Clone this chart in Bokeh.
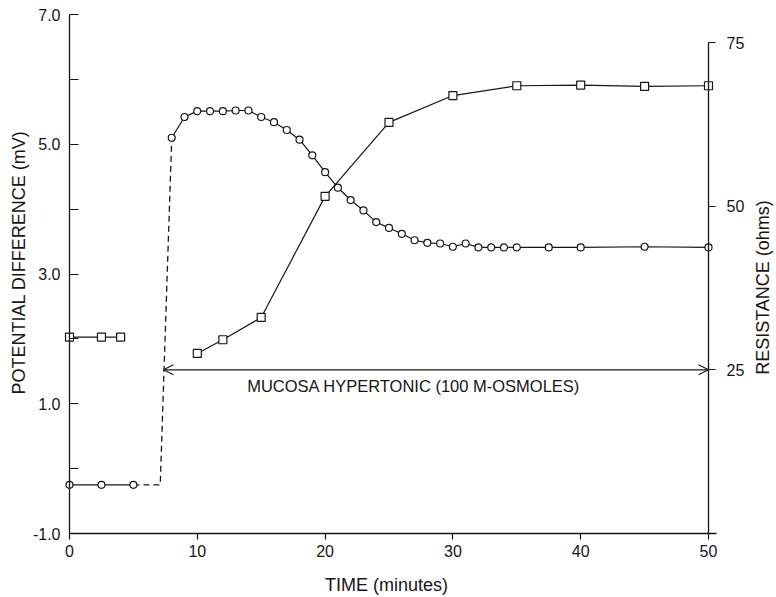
import math
from bokeh.plotting import figure
from bokeh.models import Range1d, LinearAxis, FixedTicker, Arrow, OpenHead, Label
from bokeh.embed import file_html
from bokeh.resources import INLINE

# ---- data ----
# potential difference (mV), circles, left axis
pd_base_t = [0, 2.5, 5]
pd_base_v = [-0.25, -0.25, -0.25]
jump_t = [5, 7.1, 8]
jump_v = [-0.25, -0.25, 5.1]
pd_t = [8, 9, 10, 11, 12, 13, 14, 15, 16, 17, 18, 19, 20, 21, 22, 23, 24, 25,
        26, 27, 28, 29, 30, 31, 32, 33, 34, 35, 37.5, 40, 45, 50]
pd_v = [5.1, 5.42, 5.51, 5.51, 5.51, 5.52, 5.52, 5.42, 5.34, 5.22, 5.07, 4.83,
        4.57, 4.33, 4.14, 3.98, 3.80, 3.71, 3.62, 3.52, 3.48, 3.47, 3.42, 3.47,
        3.41, 3.41, 3.41, 3.41, 3.41, 3.41, 3.42, 3.41]
# resistance (ohms), squares, right axis
res_base_t = [0, 2.5, 4]
res_base_v = [30.0, 30.0, 30.0]
res_t = [10, 12, 15, 20, 25, 30, 35, 40, 45, 50]
res_v = [27.5, 29.6, 33.0, 51.5, 62.8, 66.9, 68.4, 68.5, 68.3, 68.4]

x_ticks = [0, 10, 20, 30, 40, 50]
y_ticks = [-1, 1, 3, 5, 7]
y_tick_labels = ["-1.0", "1.0", "3.0", "5.0", "7.0"]
y_minor = [0, 2, 4, 6]
r_ticks = [25, 50, 75]

arrow_t = [7.35, 50]
arrow_r = 25
note = "MUCOSA HYPERTONIC (100 M-OSMOLES)"
x_title = "TIME (minutes)"
left_title = "POTENTIAL DIFFERENCE (mV)"
right_title = "RESISTANCE (ohms)"

FONT = "Liberation Sans"
INK = "#161616"

# ---- layout: the plotting frame covers the whole canvas; the axes are pinned ----
W, H = 776, 597
LEFT, TOP, RIGHT, BOTTOM = 69, 14, 708, 533          # axis box in pixels
PX = (RIGHT - LEFT) / 50.0                            # px per minute
PY = (BOTTOM - TOP) / 8.0                             # px per mV
R_TOP = 79.28
PR = (BOTTOM - TOP) / R_TOP                           # px per ohm

x_range = Range1d(-LEFT / PX, (W - LEFT) / PX)
y_range = Range1d(-1 - (H - BOTTOM) / PY, 7 + TOP / PY)
r_range = Range1d(-(H - BOTTOM) / PR, R_TOP + TOP / PR)

p = figure(width=W, height=H, output_backend="svg", toolbar_location=None,
           x_range=x_range, y_range=y_range,
           min_border_left=0, min_border_right=0, min_border_top=0,
           min_border_bottom=0, outline_line_color=None)
p.extra_y_ranges = {"res": r_range}
p.xgrid.visible = False
p.ygrid.visible = False

# axes styling
xa = p.xaxis[0]
xa.ticker = FixedTicker(ticks=x_ticks)
xa.bounds = (0, 50.6)
xa.fixed_location = -1
xa.major_tick_out = 6
xa.major_tick_in = 0
xa.minor_tick_out = 0
xa.minor_tick_in = 0
xa.major_label_standoff = 5

ya = p.yaxis[0]
ya.ticker = FixedTicker(ticks=y_ticks, minor_ticks=y_minor)
ya.major_label_overrides = {t: s for t, s in zip(y_ticks, y_tick_labels)}
ya.bounds = (-1, 7)
ya.fixed_location = 0
ya.major_tick_out = 0
ya.major_tick_in = 9
ya.minor_tick_out = 0
ya.minor_tick_in = 9
ya.major_label_standoff = 9

ra = LinearAxis(y_range_name="res", ticker=FixedTicker(ticks=r_ticks),
                bounds=(0, 75), fixed_location=50)
ra.major_tick_out = 7
ra.major_tick_in = 0
ra.minor_tick_out = 0
ra.minor_tick_in = 0
ra.major_label_standoff = 11
p.add_layout(ra, "right")

for ax in (xa, ya, ra):
    ax.axis_line_color = INK
    ax.major_tick_line_color = INK
    ax.minor_tick_line_color = INK
    ax.axis_line_width = 1.3
    ax.major_tick_line_width = 1.2
    ax.minor_tick_line_width = 1.2
    ax.major_label_text_font = FONT
    ax.major_label_text_font_size = "16px"
    ax.major_label_text_color = INK

# axis titles
p.add_layout(Label(x=(386 - LEFT) / PX, y=-1 - (584 - BOTTOM) / PY, text=x_title,
                   text_font=FONT, text_font_size="18px", text_color=INK,
                   text_align="center", text_baseline="middle"))
p.add_layout(Label(x=(18 - LEFT) / PX, y=-1 + (BOTTOM - 262) / PY, text=left_title,
                   angle=math.pi / 2, text_font=FONT, text_font_size="18px",
                   text_color=INK, text_align="center", text_baseline="middle"))
p.add_layout(Label(x=(762 - LEFT) / PX, y=(BOTTOM - 287) / PR, y_range_name="res",
                   text=right_title, angle=math.pi / 2, text_font=FONT,
                   text_font_size="18px", text_color=INK,
                   text_align="center", text_baseline="middle"))

# dashed transition
p.line(jump_t, jump_v, line_color=INK, line_width=1.3, line_dash="6 4")

# resistance
p.line(res_base_t, res_base_v, y_range_name="res", line_color=INK, line_width=1.2)
p.line(res_t, res_v, y_range_name="res", line_color=INK, line_width=1.2)
p.scatter(res_base_t, res_base_v, y_range_name="res", marker="square", size=8,
          fill_color="white", line_color=INK, line_width=1.2)
p.scatter(res_t, res_v, y_range_name="res", marker="square", size=8,
          fill_color="white", line_color=INK, line_width=1.2)

# potential difference
p.line(pd_base_t, pd_base_v, line_color=INK, line_width=1.2)
p.line(pd_t, pd_v, line_color=INK, line_width=1.2)
p.scatter(pd_base_t, pd_base_v, marker="circle", size=7,
          fill_color="white", line_color=INK, line_width=1.2)
p.scatter(pd_t, pd_v, marker="circle", size=7,
          fill_color="white", line_color=INK, line_width=1.2)

# arrow and annotation
p.add_layout(Arrow(x_start=arrow_t[0], x_end=arrow_t[1], y_start=arrow_r, y_end=arrow_r,
                   y_range_name="res", line_color=INK, line_width=1.1,
                   start=OpenHead(size=10, line_color=INK, line_width=1.1),
                   end=OpenHead(size=10, line_color=INK, line_width=1.1)))
p.add_layout(Label(x=13.9, y=22.6, y_range_name="res", text=note,
                   text_font=FONT, text_font_size="16.5px", text_color=INK,
                   text_baseline="middle", text_align="left"))

open("out.html", "w").write(file_html(p, INLINE))
